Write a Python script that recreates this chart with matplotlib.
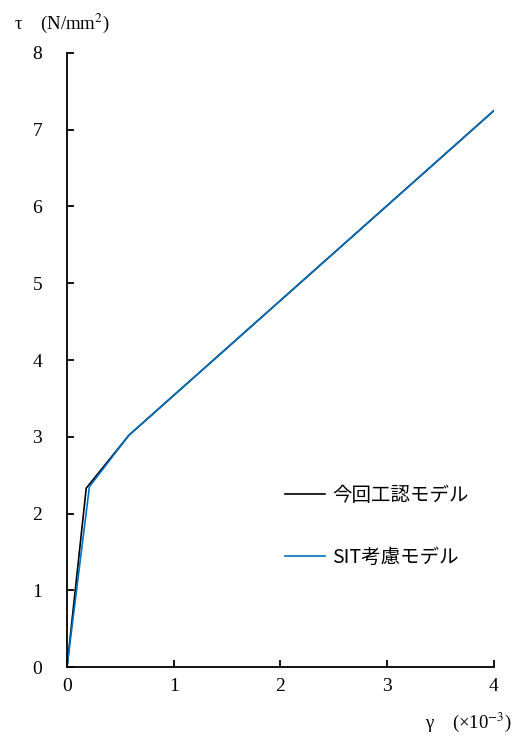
import matplotlib
matplotlib.use("Agg")
import matplotlib.pyplot as plt

# strain (x10^-3) and stress (N/mm2) for the two models
gamma_kouji = [0.0, 0.18, 0.58, 4.0]
tau_kouji = [0.0, 2.33, 3.02, 7.25]
gamma_sit = [0.0, 0.21, 0.58, 4.0]
tau_sit = [0.0, 2.35, 3.02, 7.25]
labels = ["今回工認モデル", "SIT考慮モデル"]
xticks = [0, 1, 2, 3, 4]
yticks = [0, 1, 2, 3, 4, 5, 6, 7, 8]

plt.rcParams['font.family'] = ['Liberation Serif', 'Noto Sans CJK JP', 'DejaVu Sans']
plt.rcParams['mathtext.fontset'] = 'stix'

fig = plt.figure(figsize=(5.17, 7.40), dpi=100)
ax = fig.add_axes([0.1296, 0.0986, 0.8259, 0.8298])

ax.plot(gamma_kouji, tau_kouji, color='black', lw=1.2, label=labels[0])
ax.plot(gamma_sit, tau_sit, color='#0070C0', lw=1.2, label=labels[1])

ax.set_xlim(0, 4)
ax.set_ylim(0, 8)
ax.set_xticks(xticks)
ax.set_yticks(yticks)
ax.spines['top'].set_visible(False)
ax.spines['right'].set_visible(False)
ax.spines['left'].set_linewidth(1.3)
ax.spines['bottom'].set_linewidth(1.3)
ax.tick_params(axis='both', direction='in', length=5, width=1.3, labelsize=14)
ax.tick_params(axis='y', pad=18)
ax.tick_params(axis='x', pad=8)

fig.text(0.028, 0.968, r'τ    (N/mm$^2$)', fontsize=13.5, ha='left', va='center')
fig.text(0.99, 0.024, r'γ    (×10$^{-3}$)', fontsize=13.5, ha='right', va='center')

leg = ax.legend(loc='upper left', bbox_to_anchor=(0.47, 0.325), frameon=False,
                fontsize=14, handlelength=2.05, handletextpad=0.35, labelspacing=2.1)
for t in leg.get_texts():
    t.set_family(['Noto Sans CJK JP', 'Liberation Serif'])

fig.savefig('out.png', dpi=100)
